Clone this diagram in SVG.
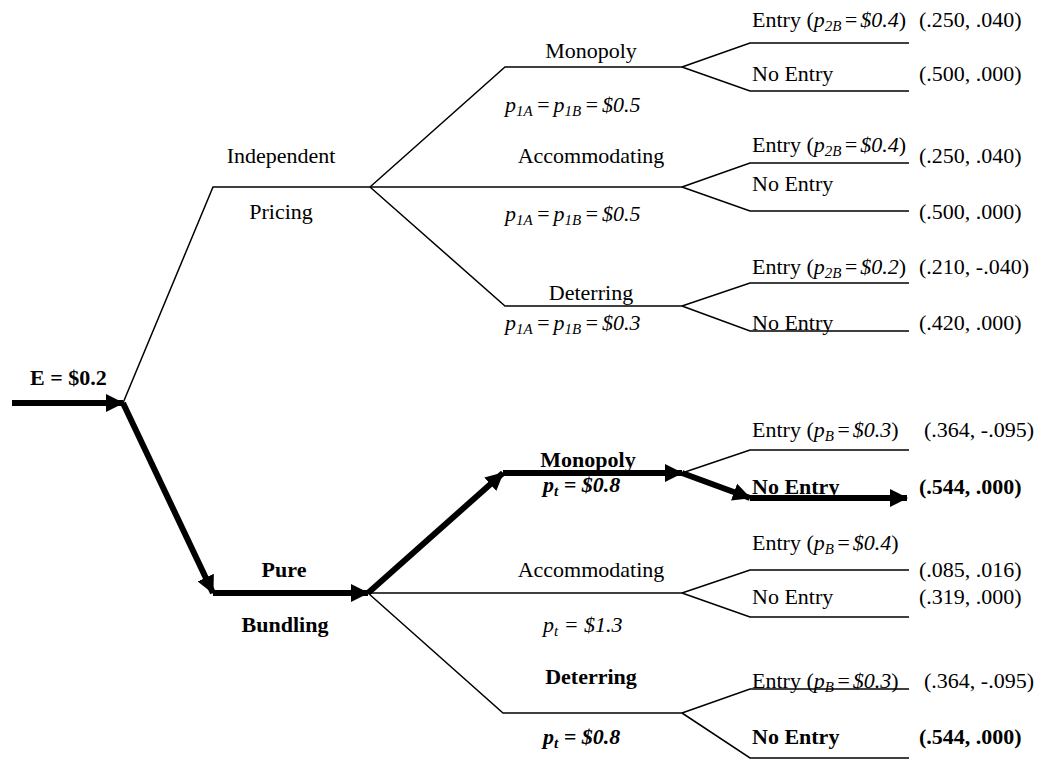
<svg xmlns="http://www.w3.org/2000/svg" width="1044" height="760" viewBox="0 0 1044 760">
<style>
text{font-family:"Liberation Serif","Times New Roman",serif;font-size:22px;fill:#000}
.b{font-weight:bold}
.i{font-style:italic}
.m{text-anchor:middle}
.sub{font-size:15px}
.thin{stroke:#000;stroke-width:1.5;fill:none}
.thick{stroke:#000;stroke-width:6;fill:none}
</style>
<defs>
<marker id="ah" markerUnits="userSpaceOnUse" markerWidth="18" markerHeight="18" refX="17" refY="9" orient="auto">
<path d="M0,0 L18,9 L0,18 Z" fill="#000"/>
</marker>
</defs>
<g id="connectors">
<path class="thin" d="M123,403 L213,187 L370,187"/>
<path class="thin" d="M370,187 L505,67 L682,67"/>
<path class="thin" d="M370,187 L682,187"/>
<path class="thin" d="M370,187 L505,306 L682,306"/>
<path class="thin" d="M682,67 L750,43 L909,43 M682,67 L750,91 L909,91"/>
<path class="thin" d="M682,187 L750,163 L909,163 M682,187 L750,211 L909,211"/>
<path class="thin" d="M682,306 L750,283 L909,283 M682,306 L750,331 L909,331"/>
<path class="thick" d="M12,403 L123,403" marker-end="url(#ah)"/>
<path class="thick" d="M123,403 L213,593" marker-end="url(#ah)"/>
<path class="thick" d="M213,593 L368,593" marker-end="url(#ah)"/>
<path class="thick" d="M368,593 L503,473" marker-end="url(#ah)"/>
<path class="thick" d="M503,473 L682,473" marker-end="url(#ah)"/>
<path class="thin" d="M682,473 L750,450 L909,450"/>
<path class="thick" d="M682,473 L750,498" marker-end="url(#ah)"/>
<path class="thick" d="M750,498 L907,498" marker-end="url(#ah)"/>
<path class="thin" d="M368,593 L682,593"/>
<path class="thin" d="M682,593 L750,570 L909,570 M682,593 L750,617 L909,617"/>
<path class="thin" d="M368,593 L503,713 L682,713"/>
<path class="thin" d="M682,713 L750,689 L909,689 M682,713 L750,758 L909,758"/>
</g>
<g id="root">
<text class="b" x="30" y="385">E = $0.2</text>
</g>
<g id="independent-pricing">
<text class="m" x="281" y="163">Independent</text>
<text class="m" x="281" y="219">Pricing</text>
</g>
<g id="ip-monopoly">
<text class="m" x="591" y="58">Monopoly</text>
<text class="i" x="505" y="112">p<tspan class="sub" dy="4">1A</tspan><tspan dy="-4" dx="3">=</tspan><tspan dx="3">p</tspan><tspan class="sub" dy="4">1B</tspan><tspan dy="-4" dx="3">=</tspan><tspan dx="3">$0.5</tspan></text>
</g>
<g id="ip-mono-outcomes">
<text x="752" y="27">Entry (<tspan class="i">p</tspan><tspan class="i sub" dy="4">2B</tspan><tspan class="i" dy="-4" dx="2">=</tspan><tspan class="i" dx="2">$0.4</tspan>)</text>
<text x="919" y="27">(.250, .040)</text>
<text x="752" y="81">No Entry</text>
<text x="919" y="81">(.500, .000)</text>
</g>
<g id="ip-accommodating">
<text class="m" x="591" y="163">Accommodating</text>
<text class="i" x="505" y="221">p<tspan class="sub" dy="4">1A</tspan><tspan dy="-4" dx="3">=</tspan><tspan dx="3">p</tspan><tspan class="sub" dy="4">1B</tspan><tspan dy="-4" dx="3">=</tspan><tspan dx="3">$0.5</tspan></text>
</g>
<g id="ip-acc-outcomes">
<text x="752" y="152">Entry (<tspan class="i">p</tspan><tspan class="i sub" dy="4">2B</tspan><tspan class="i" dy="-4" dx="2">=</tspan><tspan class="i" dx="2">$0.4</tspan>)</text>
<text x="919" y="163">(.250, .040)</text>
<text x="752" y="191">No Entry</text>
<text x="919" y="219">(.500, .000)</text>
</g>
<g id="ip-deterring">
<text class="m" x="591" y="300">Deterring</text>
<text class="i" x="505" y="330">p<tspan class="sub" dy="4">1A</tspan><tspan dy="-4" dx="3">=</tspan><tspan dx="3">p</tspan><tspan class="sub" dy="4">1B</tspan><tspan dy="-4" dx="3">=</tspan><tspan dx="3">$0.3</tspan></text>
</g>
<g id="ip-det-outcomes">
<text x="752" y="274">Entry (<tspan class="i">p</tspan><tspan class="i sub" dy="4">2B</tspan><tspan class="i" dy="-4" dx="2">=</tspan><tspan class="i" dx="2">$0.2</tspan>)</text>
<text x="919" y="274">(.210, -.040)</text>
<text x="752" y="330">No Entry</text>
<text x="919" y="330">(.420, .000)</text>
</g>
<g id="pure-bundling">
<text class="b m" x="284" y="577">Pure</text>
<text class="b m" x="285" y="632">Bundling</text>
</g>
<g id="pb-monopoly">
<text class="b m" x="588" y="467">Monopoly</text>
<text class="b i" x="543" y="492">p<tspan class="sub" dy="4">t</tspan><tspan dy="-4"> = $0.8</tspan></text>
</g>
<g id="pb-mono-outcomes">
<text x="752" y="437">Entry (<tspan class="i">p</tspan><tspan class="i sub" dy="4">B</tspan><tspan class="i" dy="-4" dx="2">=</tspan><tspan class="i" dx="2">$0.3</tspan>)</text>
<text x="924" y="437">(.364, -.095)</text>
<text class="b" x="752" y="494">No Entry</text>
<text class="b" x="919" y="494">(.544, .000)</text>
</g>
<g id="pb-accommodating">
<text class="m" x="591" y="577">Accommodating</text>
<text class="i" x="543" y="632">p<tspan class="sub" dy="4">t</tspan><tspan dy="-4"> = $1.3</tspan></text>
</g>
<g id="pb-acc-outcomes">
<text x="752" y="550">Entry (<tspan class="i">p</tspan><tspan class="i sub" dy="4">B</tspan><tspan class="i" dy="-4" dx="2">=</tspan><tspan class="i" dx="2">$0.4</tspan>)</text>
<text x="919" y="577">(.085, .016)</text>
<text x="752" y="604">No Entry</text>
<text x="919" y="604">(.319, .000)</text>
</g>
<g id="pb-deterring">
<text class="b m" x="591" y="684">Deterring</text>
<text class="b i" x="543" y="744">p<tspan class="sub" dy="4">t</tspan><tspan dy="-4"> = $0.8</tspan></text>
</g>
<g id="pb-det-outcomes">
<text x="752" y="688">Entry (<tspan class="i">p</tspan><tspan class="i sub" dy="4">B</tspan><tspan class="i" dy="-4" dx="2">=</tspan><tspan class="i" dx="2">$0.3</tspan>)</text>
<text x="924" y="688">(.364, -.095)</text>
<text class="b" x="752" y="744">No Entry</text>
<text class="b" x="919" y="744">(.544, .000)</text>
</g>
</svg>
